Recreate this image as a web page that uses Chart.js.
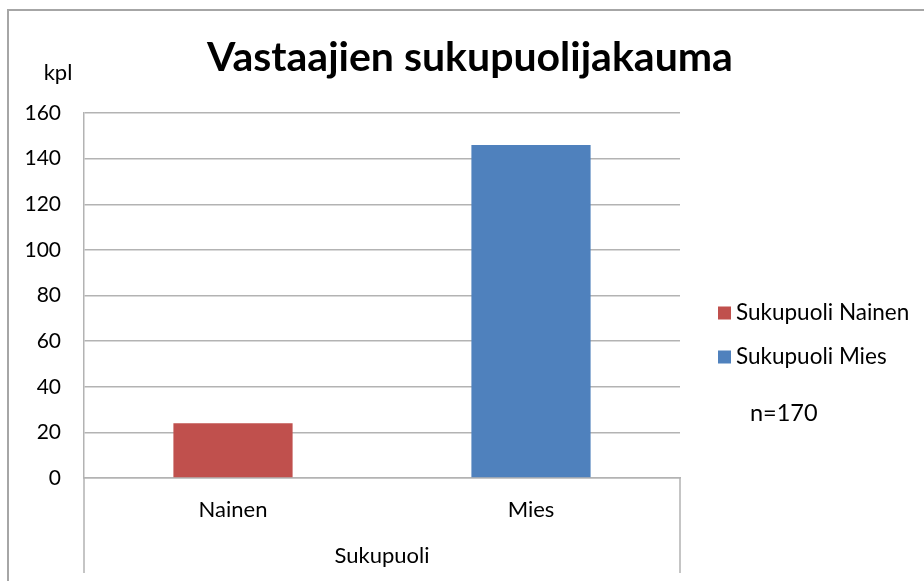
<!DOCTYPE html>
<html>
<head>
<meta charset="utf-8">
<script src="https://cdn.jsdelivr.net/npm/chart.js@4"></script>
<style>
  body { margin: 0; background: #fff; }
</style>
</head>
<body>
<canvas id="kaavio" width="924" height="581"></canvas>
<script>
// data
const kategoriat = ['Nainen', 'Mies'];
const sarjat = ['Sukupuoli Nainen', 'Sukupuoli Mies'];
const lukumaarat = [24, 146];
const varit = ['#C0504D', '#4F81BD'];
const yMin = 0, yMax = 160, yAskel = 20;
const otsikko = 'Vastaajien sukupuolijakauma';
const yYksikko = 'kpl';
const xOtsikko = 'Sukupuoli';
const nTeksti = 'n=170';

const fontti = 'Lato, "Open Sans", sans-serif';
const harmaa = '#b3b3b3';

// one dataset per series, bar only in its own category
var datasets = sarjat.map(function (nimi, i) {
    return {
        label: nimi,
        data: kategoriat.map(function (k, j) { return j === i ? lukumaarat[i] : null; }),
        backgroundColor: varit[i],
        borderWidth: 0
    };
});

const koristeet = {
    id: 'koristeet',
    afterDraw(chart) {
        const ctx = chart.ctx;
        const a = chart.chartArea;
        ctx.save();

        // outer frame (top and left edges visible)
        ctx.strokeStyle = '#a6a6a6';
        ctx.lineWidth = 2;
        ctx.beginPath();
        ctx.moveTo(8, 581);
        ctx.lineTo(8, 10);
        ctx.lineTo(924, 10);
        ctx.stroke();

        // sides of the category area
        ctx.strokeStyle = harmaa;
        ctx.lineWidth = 1.5;
        ctx.beginPath();
        ctx.moveTo(a.left, a.bottom);
        ctx.lineTo(a.left, 573);
        ctx.moveTo(a.right, a.bottom);
        ctx.lineTo(a.right, 573);
        ctx.stroke();

        // title
        ctx.fillStyle = '#000';
        ctx.textBaseline = 'middle';
        ctx.textAlign = 'center';
        ctx.font = 'bold 41px ' + fontti;
        ctx.fillText(otsikko, 470, 58);

        // y unit
        ctx.font = '22px ' + fontti;
        ctx.fillText(yYksikko, 58, 73);

        // legend
        ctx.textAlign = 'left';
        ctx.font = '22.5px ' + fontti;
        chart.data.datasets.forEach(function (ds, i) {
            var y = 313 + i * 44;
            ctx.fillStyle = ds.backgroundColor;
            ctx.fillRect(718, y - 6.5, 13, 13);
            ctx.fillStyle = '#000';
            ctx.fillText(ds.label, 736, y);
        });

        // n
        ctx.font = '23.5px ' + fontti;
        ctx.fillText(nTeksti, 750, 413);

        ctx.restore();
    }
};

var ctx = document.getElementById('kaavio').getContext('2d');
new Chart(ctx, {
    type: 'bar',
    data: {
        labels: kategoriat,
        datasets: datasets
    },
    options: {
        responsive: false,
        animation: false,
        layout: {
            padding: { left: 0, top: 113, right: 244, bottom: 0 }
        },
        datasets: {
            bar: {
                grouped: false,
                barPercentage: 0.4,
                categoryPercentage: 1.0
            }
        },
        plugins: {
            legend: { display: false },
            title: { display: false },
            tooltip: { enabled: false }
        },
        scales: {
            x: {
                afterFit: function (s) { s.height = 103; },
                grid: { display: false, drawTicks: false },
                border: { display: true, color: harmaa, width: 1.5 },
                ticks: {
                    padding: 19,
                    color: '#000',
                    font: { family: fontti, size: 22 }
                },
                title: {
                    display: true,
                    text: xOtsikko,
                    color: '#000',
                    padding: { top: 0, bottom: 12 },
                    font: { family: fontti, size: 22 }
                }
            },
            y: {
                min: yMin,
                max: yMax,
                afterFit: function (s) { s.width = 84; },
                grid: { color: harmaa, lineWidth: 1.5, drawTicks: false },
                border: { display: true, color: harmaa, width: 1.5 },
                ticks: {
                    stepSize: yAskel,
                    padding: 23,
                    color: '#000',
                    font: { family: fontti, size: 21 }
                }
            }
        }
    },
    plugins: [koristeet]
});
</script>
</body>
</html>
